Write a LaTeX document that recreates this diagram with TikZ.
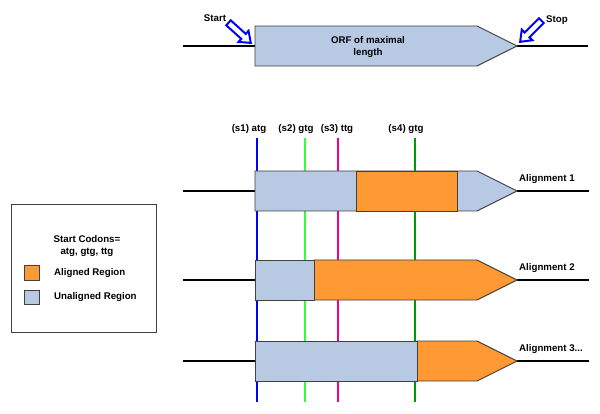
\documentclass[tikz,border=0pt]{standalone}
\usepackage{fontspec}
\setmainfont{Liberation Sans}
\usetikzlibrary{shapes.arrows}
\definecolor{ublue}{HTML}{B8C9E3}
\definecolor{aorange}{HTML}{FF9933}
\definecolor{sgreen}{HTML}{33FF33}
\definecolor{dgreen}{HTML}{009900}
\definecolor{edge}{HTML}{404040}
\begin{document}
\begin{tikzpicture}[x=1pt,y=-1pt,
  font=\fontsize{9.7}{11.5}\selectfont\bfseries,
  dnaline/.style={line width=1.5pt, black},
  seg/.style={draw=edge, line width=0.9pt},
  lbl/.style={inner sep=0pt},
  vline/.style={line width=1.5pt},
  hollow/.style={single arrow, draw=blue, fill=white, line width=2pt,
    minimum height=30pt, minimum width=15pt, inner sep=2.2pt,
    single arrow head extend=4pt, single arrow tip angle=75, anchor=tip}]
\useasboundingbox[fill=white] (0,0) rectangle (600,414);

% ---------- top ORF ----------
\coordinate (t0) at (183,46); \coordinate (tL) at (255,46);
\coordinate (tT) at (517,46); \coordinate (t1) at (588,46);
\draw[dnaline] (t0) -- (tL);
\draw[dnaline] (tT) -- (t1);
\draw[seg, fill=ublue] (255,26) -- (477,26) -- (tT) -- (477,66) -- (255,66) -- cycle;
\node[lbl, align=center] (orf) at (368,47) {ORF of maximal\\length};
\node[hollow, rotate=-42] (startarr) at (252,44) {};
\node[hollow, rotate=-135] (stoparr) at (519,43) {};
\node[lbl] (start) at (215,18) {Start};
\node[lbl] (stop) at (557,20) {Stop};

% ---------- start codon lines ----------
\draw[vline, blue]    (257,138) coordinate (v1a) -- (257,402) coordinate (v1b);
\draw[vline, sgreen]  (305,138) coordinate (v2a) -- (305,402) coordinate (v2b);
\draw[vline, magenta] (338,138) coordinate (v3a) -- (338,402) coordinate (v3b);
\draw[vline, dgreen]  (415,138) coordinate (v4a) -- (415,402) coordinate (v4b);
\node[lbl] (s1) at (249,129) {(s1) atg};
\node[lbl] (s2) at (296,129) {(s2) gtg};
\node[lbl] (s3) at (337,129) {(s3) ttg};
\node[lbl] (s4) at (406,129) {(s4) gtg};

% ---------- alignment 1 ----------
\coordinate (a1l) at (183,191); \coordinate (a1s) at (255,191);
\coordinate (a1t) at (517,191); \coordinate (a1r) at (589,191);
\draw[dnaline] (a1l) -- (a1s);
\draw[dnaline] (a1t) -- (a1r);
\draw[seg, fill=ublue] (255,171) -- (477,171) -- (a1t) -- (477,211) -- (255,211) -- cycle;
\draw[seg, fill=aorange] (356,171) rectangle (457,211);
\node[lbl, anchor=west] (al1) at (519,179) {Alignment 1};

% ---------- alignment 2 ----------
\coordinate (a2l) at (183,280); \coordinate (a2s) at (255,280);
\coordinate (a2t) at (517,280); \coordinate (a2r) at (589,280);
\draw[dnaline] (a2l) -- (a2s);
\draw[dnaline] (a2t) -- (a2r);
\draw[seg, fill=aorange] (314,260) -- (477,260) -- (a2t) -- (477,300) -- (314,300) -- cycle;
\draw[seg, fill=ublue] (255,260) rectangle (314,300);
\node[lbl, anchor=west] (al2) at (519,268) {Alignment 2};

% ---------- alignment 3 ----------
\coordinate (a3l) at (183,361); \coordinate (a3s) at (255,361);
\coordinate (a3t) at (517,361); \coordinate (a3r) at (589,361);
\draw[dnaline] (a3l) -- (a3s);
\draw[dnaline] (a3t) -- (a3r);
\draw[seg, fill=aorange] (417,341) -- (477,341) -- (a3t) -- (477,381) -- (417,381) -- cycle;
\draw[seg, fill=ublue] (255,341) rectangle (417,381);
\node[lbl, anchor=west] (al3) at (519,349) {Alignment 3...};

% ---------- legend ----------
\draw[draw=edge, line width=1pt] (11,205) rectangle (156,332);
\node[lbl, align=center] (codons) at (87,246) {Start Codons=\\[1pt]atg, gtg, ttg};
\draw[seg, fill=aorange] (24,265) rectangle (39,280);
\draw[seg, fill=ublue] (24,290) rectangle (39,304);
\node[lbl, anchor=west] (aligned) at (54,273) {Aligned Region};
\node[lbl, anchor=west] (unaligned) at (54,297) {Unaligned Region};
\end{tikzpicture}
\end{document}
